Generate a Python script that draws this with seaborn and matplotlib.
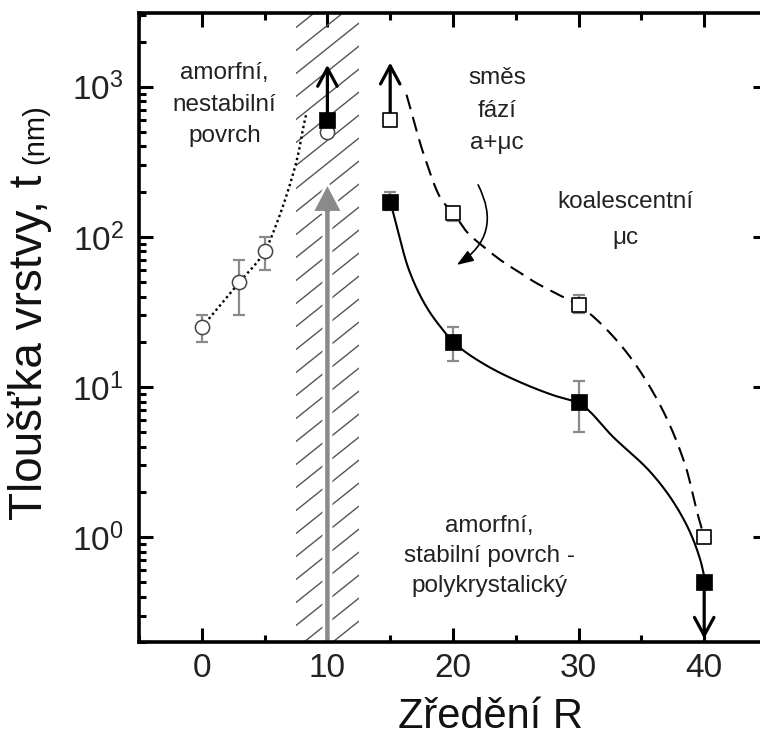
import numpy as np
import matplotlib
matplotlib.use("Agg")
import matplotlib.pyplot as plt
import matplotlib.transforms as mtransforms
from matplotlib.ticker import MultipleLocator, NullFormatter, LogLocator
import seaborn as sns

# ---------------- data ----------------
x_ticks = [0, 10, 20, 30, 40]

# open circles: amorphous films
R_amorf = [0, 3, 5, 10]
t_amorf = [25, 50, 80, 500]
lo_amorf = [20, 30, 60, np.nan]
hi_amorf = [30, 70, 100, np.nan]

# filled squares
R_full = [10, 15, 20, 30, 40]
t_full = [600, 170, 20, 8, 0.5]
lo_full = [np.nan, 150, 15, 5, np.nan]
hi_full = [np.nan, 200, 25, 11, np.nan]

# open squares
R_open = [15, 20, 30, 40]
t_open = [600, 145, 35, 1.0]
lo_open = [np.nan, 127, 31, np.nan]
hi_open = [np.nan, 158, 41, np.nan]

# guide curves
dot_R = [0, 3, 5, 6.1, 7.0, 7.65, 8.1, 8.3]
dot_t = [25, 50, 80, 132, 221, 348, 546, 650]

solid_R = [15.1, 16.5, 17.9, 19.3, 20.0, 22.6, 25.3, 28.0, 30.0, 32.8, 36.0, 38.5, 39.7, 40.0]
solid_t = [160, 60, 34, 23.4, 20, 14, 10.8, 8.8, 7.8, 4.6, 2.55, 1.25, 0.70, 0.55]

dash_R = [16.3, 17.7, 19.1, 20.0, 21.1, 22.5, 24.0, 25.3, 26.5, 28.2, 30.0, 32.8, 36.0, 38.5, 39.5, 40.0]
dash_t = [885, 348, 176, 145, 108, 85, 68, 58, 50, 42, 35, 21.5, 9.0, 3.0, 1.4, 1.0]

# limit arrows (black)
arrow_R = [10, 15, 40]
arrow_from = [600, 600, 0.5]
arrow_to = [1400, 1450, 0.21]

# hatched transition band and grey arrow
band_R = [7.5, 12.5]
grey_arrow_R = 10
grey_arrow_t = [0.2, 228]

# curved arrow
curve_arrow_start = (22.0, 222)
curve_arrow_end = (20.3, 65)

labels = [
    (1.8, 760, "amorfní,\nnestabilní\npovrch", 1.54),
    (23.5, 690, "směs\nfází\na+μc", 1.62),
    (33.7, 130, "koalescentní\nμc", 1.8),
    (22.9, 0.75, "amorfní,\nstabilní povrch -\npolykrystalický", 1.49),
]

# ---------------- figure ----------------
sns.set_theme(style="ticks")
plt.rcParams["font.family"] = ["Liberation Sans", "DejaVu Sans"]
plt.rcParams["mathtext.fontset"] = "custom"
plt.rcParams["mathtext.rm"] = "Liberation Sans"
plt.rcParams["mathtext.it"] = "Liberation Sans:italic"
plt.rcParams["mathtext.bf"] = "Liberation Sans:bold"

W, H = 760, 736
fig = plt.figure(figsize=(W / 100, H / 100), dpi=100)
ax_l, ax_b, ax_w, ax_h = 139 / W, 94 / H, 628 / W, 629 / H
ax = fig.add_axes([ax_l, ax_b, ax_w, ax_h])
ax.set_yscale("log")
ax.set_xlim(-5, 45)
ax.set_ylim(0.2, 3100)


def smooth(xs, ys, n=30):
    """Shape-preserving (PCHIP) rendering of a hand-drawn guide curve in log-y."""
    x = np.asarray(xs, float)
    y = np.log10(np.asarray(ys, float))
    h = np.diff(x)
    dl = np.diff(y) / h
    d = np.zeros_like(x)
    d[0], d[-1] = dl[0], dl[-1]
    for k in range(1, len(x) - 1):
        if dl[k - 1] * dl[k] > 0:
            w1 = 2 * h[k] + h[k - 1]
            w2 = h[k] + 2 * h[k - 1]
            d[k] = (w1 + w2) / (w1 / dl[k - 1] + w2 / dl[k])
    ox, oy = [], []
    for k in range(len(x) - 1):
        t = np.linspace(0, 1, n, endpoint=False)
        h00 = 2 * t**3 - 3 * t**2 + 1
        h10 = t**3 - 2 * t**2 + t
        h01 = -2 * t**3 + 3 * t**2
        h11 = t**3 - t**2
        ox.append(x[k] + t * h[k])
        oy.append(h00 * y[k] + h10 * h[k] * d[k] + h01 * y[k + 1] + h11 * h[k] * d[k + 1])
    ox.append([x[-1]])
    oy.append([y[-1]])
    return np.concatenate(ox), 10 ** np.concatenate(oy)


px_per_unit = W * ax_w / 50.0

# hatched band
span = ax.axvspan(band_R[0], band_R[1], facecolor="none", edgecolor="none", zorder=1)
trans = mtransforms.blended_transform_factory(ax.transData, ax.transAxes)
slope = 0.8 * px_per_unit / (H * ax_h)  # axes-fraction per data unit
step = 23.0 / (H * ax_h)
for c in np.arange(-0.12, 1.02, step):
    ln, = ax.plot([band_R[0], band_R[1]], [c, c + slope * (band_R[1] - band_R[0])],
                  transform=trans, color="#555555", lw=1.0, zorder=1.2)
    ln.set_clip_path(span)

# grey arrow
ax.annotate("", xy=(grey_arrow_R, grey_arrow_t[1]), xytext=(grey_arrow_R, grey_arrow_t[0]),
            arrowprops=dict(width=5.2, headwidth=22, headlength=21, facecolor="#8a8a8a",
                            edgecolor="white", lw=2.0, shrink=0), zorder=1.6)

# guide curves
sx, sy = smooth(dot_R, dot_t)
sns.lineplot(x=sx, y=sy, sort=False, estimator=None, color="black", lw=1.7, ax=ax, zorder=2)
ax.lines[-1].set_linestyle((0, (1.0, 1.3)))
sx, sy = smooth(solid_R, solid_t)
sns.lineplot(x=sx, y=sy, sort=False, estimator=None, color="black", lw=1.5, ax=ax, zorder=2)
sx, sy = smooth(dash_R, dash_t)
sns.lineplot(x=sx, y=sy, sort=False, estimator=None, color="black", lw=1.5, ax=ax, zorder=2)
ax.lines[-1].set_linestyle((0, (7.2, 3.9)))

# black limit arrows
for r, a, b in zip(arrow_R, arrow_from, arrow_to):
    ax.annotate("", xy=(r, b), xytext=(r, a),
                arrowprops=dict(arrowstyle="->,head_length=0.65,head_width=0.35", lw=2.3,
                                color="black", mutation_scale=20, shrinkA=0, shrinkB=0),
                zorder=2.2)

# curved arrow
ax.annotate("", xy=curve_arrow_end, xytext=curve_arrow_start,
            arrowprops=dict(arrowstyle="-|>,head_length=0.5,head_width=0.18", lw=1.2,
                            color="black", mutation_scale=20, shrinkA=0, shrinkB=0,
                            connectionstyle="arc3,rad=-0.45"), zorder=2.2)

# error bars
def errbars(xs, ys, lo, hi):
    xs, ys, lo, hi = map(np.asarray, (xs, ys, lo, hi))
    m = ~np.isnan(lo)
    ax.errorbar(xs[m], ys[m], yerr=[ys[m] - lo[m], hi[m] - ys[m]], fmt="none",
                ecolor="#8a8a8a", elinewidth=1.6, capsize=4.5, capthick=1.6, zorder=2.4)

errbars(R_amorf, t_amorf, lo_amorf, hi_amorf)
errbars(R_full, t_full, lo_full, hi_full)
errbars(R_open, t_open, lo_open, hi_open)

# markers
sns.scatterplot(x=R_amorf, y=t_amorf, marker="o", s=105, facecolor="white",
                edgecolor="#444444", linewidth=1.1, ax=ax, zorder=3)
sns.scatterplot(x=R_open, y=t_open, marker="s", s=90, facecolor="white",
                edgecolor="black", linewidth=1.2, ax=ax, zorder=3)
sns.scatterplot(x=R_full, y=t_full, marker="s", s=125, color="black",
                edgecolor="black", linewidth=0.5, ax=ax, zorder=3.2)

# text annotations
for x, y, s, lsp in labels:
    ax.text(x, y, s, ha="center", va="center", multialignment="center",
            fontsize=17.5, color="#222222", linespacing=lsp, zorder=4)

# axes styling
ax.set_xticks(x_ticks)
ax.set_xticklabels([str(v) for v in x_ticks])
ax.xaxis.set_minor_locator(MultipleLocator(5))
ax.yaxis.set_major_locator(LogLocator(base=10, numticks=10))
ax.yaxis.set_minor_locator(LogLocator(base=10, subs=np.arange(2, 10), numticks=20))
ax.yaxis.set_minor_formatter(NullFormatter())
ax.tick_params(which="both", direction="in", top=True, right=True, width=2.2,
               color="black", labelcolor="#222222")
ax.tick_params(which="major", length=10, labelsize=24)
ax.tick_params(which="minor", length=5)
ax.tick_params(axis="x", which="major", pad=8)
ax.tick_params(axis="y", which="major", pad=11)
for sp in ax.spines.values():
    sp.set_linewidth(2.6)
    sp.set_color("black")
    sp.set_zorder(5)

ax.set_xlabel("Zředění R", fontsize=30, color="#111111")
ax.xaxis.set_label_coords(0.559, -0.087)
ax.set_ylabel("Tloušťka vrstvy, t", fontsize=33, color="#111111")
ax.yaxis.set_label_coords(-0.139, 0.468)
ax.annotate("(nm)", xy=(1, 1), xycoords=ax.yaxis.label, xytext=(-2, 8),
            textcoords="offset points", rotation=90, ha="right", va="bottom",
            fontsize=21, color="#111111")

fig.savefig("out.png", dpi=100)
